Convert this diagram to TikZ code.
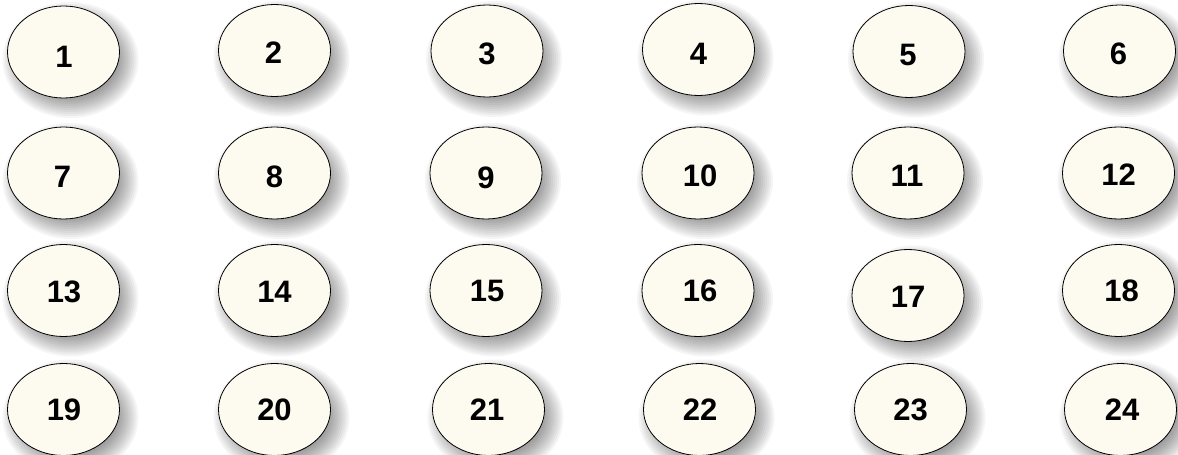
\documentclass[tikz,border=0pt]{standalone}
\usepackage{fontspec}
\setmainfont{Liberation Sans}
\usetikzlibrary{shapes.geometric}
\definecolor{cream}{RGB}{253,250,240}
\tikzset{
  ell/.style={ellipse, draw=black, line width=0.8pt, fill=cream, minimum width=112pt, minimum height=92pt, inner sep=0pt},
  shadowlayer/.style={fill=black, fill opacity=0.04},
  num/.style={font=\fontsize{31}{31}\selectfont\bfseries, inner sep=0pt}
}
\newcommand{\nd}[5]{%
  \foreach \k in {0,...,13} {\fill[shadowlayer] ({#2+7},{-#3-8}) ellipse ({56+12-2*\k} and {46+12-2*\k});}
  \node[ell, label={[num, shift={(#4pt,#5pt)}]center:#1}] (n#1) at (#2pt,-#3pt) {};}
\begin{document}
\begin{tikzpicture}[x=1pt,y=1pt]
\useasboundingbox (0,0) rectangle (1178,-455);
\fill[white] (0,0) rectangle (1178,-455);
% row 1
\nd{1}{63.5}{52}{0.5}{-5}
\nd{2}{274.5}{50.5}{-1}{-2.5}
\nd{3}{487}{51}{0}{-3}
\nd{4}{698.5}{49.5}{0}{-4}
\nd{5}{909}{51.5}{-1}{-3}
\nd{6}{1119.5}{51}{-1}{-3}
% row 2
\nd{7}{63.5}{173}{-1}{-4}
\nd{8}{274.5}{173}{0}{-4}
\nd{9}{486}{173}{0}{-5}
\nd{10}{698}{173}{2}{-3}
\nd{11}{908}{173}{-1}{-3}
\nd{12}{1118.5}{173}{0}{-2}
% row 3
\nd{13}{63.5}{290.5}{0.5}{-1}
\nd{14}{274.5}{290.5}{0}{-1}
\nd{15}{486}{290.5}{1}{0}
\nd{16}{698}{290.5}{2}{0}
\nd{17}{908}{295.5}{0}{-1}
\nd{18}{1118.5}{290.5}{3}{0}
% row 4
\nd{19}{63.5}{409.5}{0.5}{-0.5}
\nd{20}{274.5}{409.5}{0}{-0.5}
\nd{21}{488.5}{409.5}{-1.5}{-0.5}
\nd{22}{699.5}{409.5}{0.5}{-0.5}
\nd{23}{910.5}{409.5}{0}{-0.5}
\nd{24}{1120.5}{409.5}{1.5}{-0.5}
\end{tikzpicture}
\end{document}
